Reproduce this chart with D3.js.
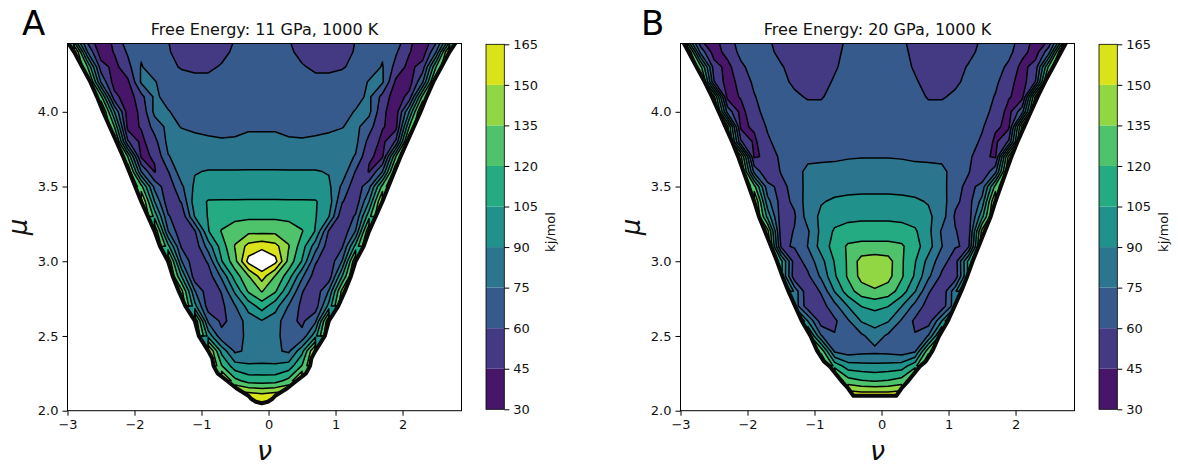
<!DOCTYPE html>
<html>
<head>
<meta charset="utf-8">
<script src="https://cdn.jsdelivr.net/npm/d3@7"></script>
<style>
  html, body { margin: 0; padding: 0; background: #fff; }
  svg { display: block; font-family: "DejaVu Sans", sans-serif; }
</style>
</head>
<body>
<svg id="fig" width="1178" height="465"></svg>
<script>
// Contour levels in kJ/mol (nine filled bands, white above the last level)
const levels = [30, 45, 60, 75, 90, 105, 120, 135, 150, 165];
const nuTicks = [-3, -2, -1, 0, 1, 2];
const muTicks = [2.0, 2.5, 3.0, 3.5, 4.0];

// Sampling grid: nu columns and mu rows
const nuStart = -3.1, nuStep = 0.2, nuCount = 31;
const muStart = 2.0, muStep = 0.1, muCount = 26;
const nuCentre = -0.1;   // symmetry line of the accessible region

// Free energy at 11 GPa, 1000 K. Rows run from mu = 4.5 (top) down to mu = 2.0;
// "-" marks grid points outside the accessible (nu, mu) region.
const energy11 = [
  "160 100 50 35 50 73 72 66 60 55 52 52 55 60 64 66 64 60 55 52 52 55 60 66 72 73 50 35 50 100 160",
  "- 160 75 36 46 62 73 67 61 56 54 54 57 62 65 67 65 62 57 54 54 56 61 67 73 62 46 36 75 160 -",
  "- 160 120 52 40 55 76 68 63 59 58 58 61 65 67 68 67 65 61 58 58 59 63 68 76 55 40 52 120 160 -",
  "- - 150 73 38 42 77 76 68 65 63 63 65 67 69 69 69 67 65 63 63 65 68 76 77 42 38 73 150 - -",
  "- - 160 125 50 36 55 78 70 67 66 66 67 69 70 70 70 69 67 66 66 67 70 78 55 36 50 125 160 - -",
  "- - - 160 90 37 48 79 76 70 69 69 70 71 72 72 72 71 70 69 69 70 76 79 48 37 90 160 - - -",
  "- - - 160 120 40 46 66 79 74.5 73 72 72 73 74 74 74 73 72 72 73 74.5 79 66 46 40 120 160 - - -",
  "- - - - 150 62 41 55 79 80 78 77 76 76 77 77 77 76 76 77 78 80 79 55 41 62 150 - - - -",
  "- - - - 160 120 43 46 74 81 82 82 82 82 83 83 83 82 82 82 82 81 74 46 43 120 160 - - - -",
  "- - - - - 150 75 44 59 84 89 91 91 91 91 91 91 91 91 91 89 84 59 44 75 150 - - - - -",
  "- - - - - 160 125 70 50 72 93 96 97 97 98 98 98 97 97 96 93 72 50 70 125 160 - - - - -",
  "- - - - - - 155 90 50 61 98 106 106 106 106 106 106 106 106 106 98 61 50 90 155 - - - - - -",
  "- - - - - - 160 115 62 48 91 106 113 116 117 117 117 116 113 106 91 48 62 115 160 - - - - - -",
  "- - - - - - - 150 76 48 58 104 121 128 131 131 131 128 121 104 58 48 76 150 - - - - - - -",
  "- - - - - - - 160 110 58 50 82 112 136 155 160 155 136 112 82 50 58 110 160 - - - - - - -",
  "- - - - - - - - 150 76 48 62 104 130 170 182 170 130 104 62 48 76 150 - - - - - - - -",
  "- - - - - - - - 160 105 50 52 78 112 134 157 134 112 78 52 50 105 160 - - - - - - - -",
  "- - - - - - - - 160 140 76 50 61 93 122 136 122 93 61 50 76 140 160 - - - - - - - -",
  "- - - - - - - - - 150 95 52 56 74 96 112 96 74 56 52 95 150 - - - - - - - - -",
  "- - - - - - - - - - 150 72 57 65 82 89 82 65 57 72 150 - - - - - - - - - -",
  "- - - - - - - - - - 155 100 64 68 79 82 79 68 64 100 155 - - - - - - - - - -",
  "- - - - - - - - - - - 155 100 72 78 80 78 72 100 155 - - - - - - - - - - -",
  "- - - - - - - - - - - 160 121 96 92 92 92 96 121 160 - - - - - - - - - - -",
  "- - - - - - - - - - - - 160 125 114 113 114 125 160 - - - - - - - - - - - -",
  "- - - - - - - - - - - - - 160 160 156 160 160 - - - - - - - - - - - - -",
  "- - - - - - - - - - - - - - - 158 - - - - - - - - - - - - - - -"
];

// Free energy at 20 GPa, 1000 K (same grid and layout as above)
const energy20 = [
  "160 95 42 40 57 64 66 61 55 51 50 52 57 61 63 65 63 61 57 52 50 51 55 61 66 64 57 40 42 95 160",
  "- 160 70 38 50 64 67 63 57 53 52 53 58 62 64 66 64 62 58 53 52 53 57 63 67 64 50 38 70 160 -",
  "- 160 125 52 40 57 66 66 61 56 54 55 59 63 66 67 66 63 59 55 54 56 61 66 66 57 40 52 125 160 -",
  "- - 155 61 38 50 63 67 63 58 56 57 61 65 67 68 67 65 61 57 56 58 63 67 63 50 38 61 155 - -",
  "- - 160 140 40 46 59 67 66 62 59 59 64 67 68 69 68 67 64 59 59 62 66 67 59 46 40 140 160 - -",
  "- - - 160 70 40 55 66 68 66 64 64 67 69 70 70 70 69 67 64 64 66 68 66 55 40 70 160 - - -",
  "- - - 160 140 42 47 62 67 68 67 67 69 70 71 71 71 70 69 67 67 68 67 62 47 42 140 160 - - -",
  "- - - - 150 62 42 57 68 69 70 70 71 72 72 72 72 72 71 70 70 69 68 57 42 62 150 - - - -",
  "- - - - 160 140 43 48 64 70 72 72.5 73 74 74.5 74.5 74.5 74 73 72.5 72 70 64 48 43 140 160 - - - -",
  "- - - - - 155 70 47 61 70 78 79 79 80 80 80 80 80 79 79 78 70 61 47 70 155 - - - - -",
  "- - - - - 160 125 65 55 66 80 84 85 86 86 86 86 86 85 84 80 66 55 65 125 160 - - - - -",
  "- - - - - - 155 80 54 63 82 89 92 93 94 94 94 93 92 89 82 63 54 80 155 - - - - - -",
  "- - - - - - 160 100 52 58 82 93 99 101 102 102 102 101 99 93 82 58 52 100 160 - - - - - -",
  "- - - - - - 160 140 52 61 73 94 107 111 112 112 112 111 107 94 73 61 52 140 160 - - - - - -",
  "- - - - - - - 150 58 61 75.5 96 111 122 124 124 124 122 111 96 75.5 61 58 150 - - - - - - -",
  "- - - - - - - 160 110 52 66 85 106 122 141 144 141 122 106 85 66 52 110 160 - - - - - - -",
  "- - - - - - - - 110 50 57 78 103 122 140 144 140 122 103 78 57 50 110 - - - - - - - -",
  "- - - - - - - - 150 85 48 62 91 113 128 133 128 113 91 62 48 85 150 - - - - - - - -",
  "- - - - - - - - - 85 50 53 70 90.5 105.5 109 105.5 90.5 70 53 50 85 - - - - - - - - -",
  "- - - - - - - - - 150 90 52 57 73 91 96 91 73 57 52 90 150 - - - - - - - - -",
  "- - - - - - - - - - 130 76 61 63 72 83 72 63 61 76 130 - - - - - - - - - -",
  "- - - - - - - - - - 160 130 72 67 70 71 70 67 72 130 160 - - - - - - - - - -",
  "- - - - - - - - - - - 155 115 97 95 94 95 97 115 155 - - - - - - - - - - -",
  "- - - - - - - - - - - - 152 126 121 119 121 126 152 - - - - - - - - - - - -",
  "- - - - - - - - - - - - - 162 160 160 160 162 - - - - - - - - - - - - -",
  "- - - - - - - - - - - - - - - - - - - - - - - - - - - - - - -"
];

// Edge of the accessible region: [mu, half-width in nu about nuCentre]
const edge11 = [
  [4.5, 2.95], [4.4, 2.80], [4.3, 2.68], [4.2, 2.56], [4.1, 2.46], [4.0, 2.37],
  [3.9, 2.27], [3.8, 2.17], [3.7, 2.07], [3.6, 1.98], [3.5, 1.89], [3.4, 1.80],
  [3.3, 1.70], [3.2, 1.60], [3.1, 1.52], [3.0, 1.40], [2.9, 1.33], [2.8, 1.24],
  [2.7, 1.14], [2.6, 1.00], [2.5, 0.94], [2.4, 0.80], [2.35, 0.74], [2.3, 0.72],
  [2.25, 0.66], [2.2, 0.52], [2.15, 0.38], [2.1, 0.20], [2.08, 0.16], [2.06, 0.09], [2.05, 0]
];
const edge20 = [
  [4.5, 2.90], [4.4, 2.78], [4.3, 2.66], [4.2, 2.54], [4.1, 2.43], [4.0, 2.33],
  [3.9, 2.23], [3.8, 2.13], [3.7, 2.04], [3.6, 1.96], [3.5, 1.88], [3.4, 1.80],
  [3.3, 1.73], [3.2, 1.64], [3.1, 1.55], [3.0, 1.46], [2.9, 1.38], [2.8, 1.29],
  [2.7, 1.19], [2.6, 1.09], [2.5, 0.96], [2.4, 0.86], [2.33, 0.76], [2.3, 0.68],
  [2.2, 0.50], [2.15, 0.40], [2.1, 0.32]
];

const titles = ["Free Energy: 11 GPa, 1000 K", "Free Energy: 20 GPa, 1000 K"];
const panelLetters = ["A", "B"];
const unitLabel = "kj/mol";

// ---- layout ----
const plotTop = 43.5, plotBottom = 410.7, plotWidth = 394;
const panels = [
  { data: energy11, edge: edge11, title: titles[0], letter: panelLetters[0], left: 67.5, letterX: 22 },
  { data: energy20, edge: edge20, title: titles[1], letter: panelLetters[1], left: 680.5, letterX: 641 }
];
const MISSING = -1e6;  // below every level, so nothing is filled there
const textColor = "#111";

function viridisBand(i) {
  const mid = (levels[i] + levels[i + 1]) / 2;
  return d3.interpolateViridis((mid - levels[0]) / (levels[levels.length - 1] - levels[0]));
}

function parseGrid(rows) {
  const top = rows.map(r => r.trim().split(/\s+/).map(v => (v === "-" ? null : +v)));
  return top.reverse(); // first row = lowest mu
}

const svg = d3.select("#fig");

panels.forEach((p, pi) => {
  const x = d3.scaleLinear().domain([-3, 2.88]).range([p.left, p.left + plotWidth]);
  const y = d3.scaleLinear().domain([2, 4.457]).range([plotBottom, plotTop]);

  const grid = parseGrid(p.data);
  const values = grid.flat().map(v => (v == null ? MISSING : v));

  const gen = d3.contours().size([nuCount, muCount]);
  const proj = d3.geoTransform({
    point(gx, gy) {
      this.stream.point(x(nuStart + (gx - 0.5) * nuStep), y(muStart + (gy - 0.5) * muStep));
    }
  });
  const path = d3.geoPath(proj);

  // outline of the accessible region
  const outline = [
    ...p.edge.map(([mu, w]) => [x(nuCentre - w), y(mu)]),
    ...p.edge.slice().reverse().map(([mu, w]) => [x(nuCentre + w), y(mu)])
  ];
  const outlinePath = d3.line()(outline) + "Z";

  const defs = svg.append("defs");
  defs.append("clipPath").attr("id", "frame" + pi)
    .append("rect")
    .attr("x", p.left).attr("y", plotTop)
    .attr("width", plotWidth).attr("height", plotBottom - plotTop);
  defs.append("clipPath").attr("id", "region" + pi)
    .append("path").attr("d", outlinePath);

  const gFrame = svg.append("g").attr("clip-path", `url(#frame${pi})`);
  const g = gFrame.append("g").attr("clip-path", `url(#region${pi})`);

  // filled bands
  for (let i = 0; i < levels.length - 1; i++) {
    g.append("path")
      .attr("d", path(gen.contour(values, levels[i])))
      .attr("fill", viridisBand(i));
  }
  // above the top level stays unfilled
  g.append("path")
    .attr("d", path(gen.contour(values, levels[levels.length - 1])))
    .attr("fill", "#fff");

  // contour lines
  levels.forEach(t => {
    g.append("path")
      .attr("d", path(gen.contour(values, t)))
      .attr("fill", "none")
      .attr("stroke", "#000")
      .attr("stroke-width", 1.5)
      .attr("stroke-linejoin", "round");
  });

  // edge of the region
  gFrame.append("path")
    .attr("d", outlinePath)
    .attr("fill", "none")
    .attr("stroke", "#0a0a0a")
    .attr("stroke-width", 4)
    .attr("stroke-linejoin", "round");

  // frame
  svg.append("rect")
    .attr("x", p.left).attr("y", plotTop)
    .attr("width", plotWidth).attr("height", plotBottom - plotTop)
    .attr("fill", "none").attr("stroke", "#000").attr("stroke-width", 1);

  // axes
  const xAxis = svg.append("g")
    .attr("transform", `translate(0,${plotBottom})`)
    .call(d3.axisBottom(x).tickValues(nuTicks).tickFormat(d3.format("d")).tickSize(5).tickPadding(4));
  const yAxis = svg.append("g")
    .attr("transform", `translate(${p.left},0)`)
    .call(d3.axisLeft(y).tickValues(muTicks).tickFormat(d3.format(".1f")).tickSize(5).tickPadding(4));
  [xAxis, yAxis].forEach(a => {
    a.select(".domain").remove();
    a.selectAll("line").attr("stroke", "#000");
    a.selectAll("text").attr("font-size", 13).attr("fill", textColor)
      .attr("font-family", "DejaVu Sans");
  });

  // axis labels
  const cx = p.left + plotWidth / 2;
  svg.append("text")
    .attr("x", cx).attr("y", 460)
    .attr("text-anchor", "middle")
    .attr("font-size", 27).attr("font-style", "italic").attr("fill", textColor)
    .text("ν");
  svg.append("text")
    .attr("transform", `translate(${p.left - 41},${(plotTop + plotBottom) / 2}) rotate(-90)`)
    .attr("text-anchor", "middle")
    .attr("font-size", 26).attr("font-style", "italic").attr("fill", textColor)
    .text("μ");

  // title and panel letter
  svg.append("text")
    .attr("x", cx).attr("y", 35)
    .attr("text-anchor", "middle")
    .attr("font-size", 16).attr("fill", textColor)
    .text(p.title);
  svg.append("text")
    .attr("x", p.letterX).attr("y", 35)
    .attr("font-size", 34).attr("fill", "#000")
    .text(p.letter);

  // colour bar
  const cbX = p.left + 418.5, cbW = 18.3;
  const cy = d3.scaleLinear().domain([levels[0], levels[levels.length - 1]]).range([409.3, 44.3]);
  const cb = svg.append("g");
  for (let i = 0; i < levels.length - 1; i++) {
    cb.append("rect")
      .attr("x", cbX).attr("y", cy(levels[i + 1]))
      .attr("width", cbW).attr("height", cy(levels[i]) - cy(levels[i + 1]))
      .attr("fill", viridisBand(i));
  }
  cb.append("rect")
    .attr("x", cbX).attr("y", cy.range()[1])
    .attr("width", cbW).attr("height", cy.range()[0] - cy.range()[1])
    .attr("fill", "none").attr("stroke", "#000").attr("stroke-width", 0.8);
  const cAxis = svg.append("g")
    .attr("transform", `translate(${cbX + cbW},0)`)
    .call(d3.axisRight(cy).tickValues(levels).tickSize(5).tickPadding(4));
  cAxis.select(".domain").remove();
  cAxis.selectAll("line").attr("stroke", "#000");
  cAxis.selectAll("text").attr("font-size", 13).attr("fill", textColor)
    .attr("font-family", "DejaVu Sans");
  svg.append("text")
    .attr("transform", `translate(${cbX + 68.5},232) rotate(-90)`)
    .attr("text-anchor", "middle")
    .attr("font-size", 13).attr("fill", textColor)
    .text(unitLabel);
});
</script>
</body>
</html>
